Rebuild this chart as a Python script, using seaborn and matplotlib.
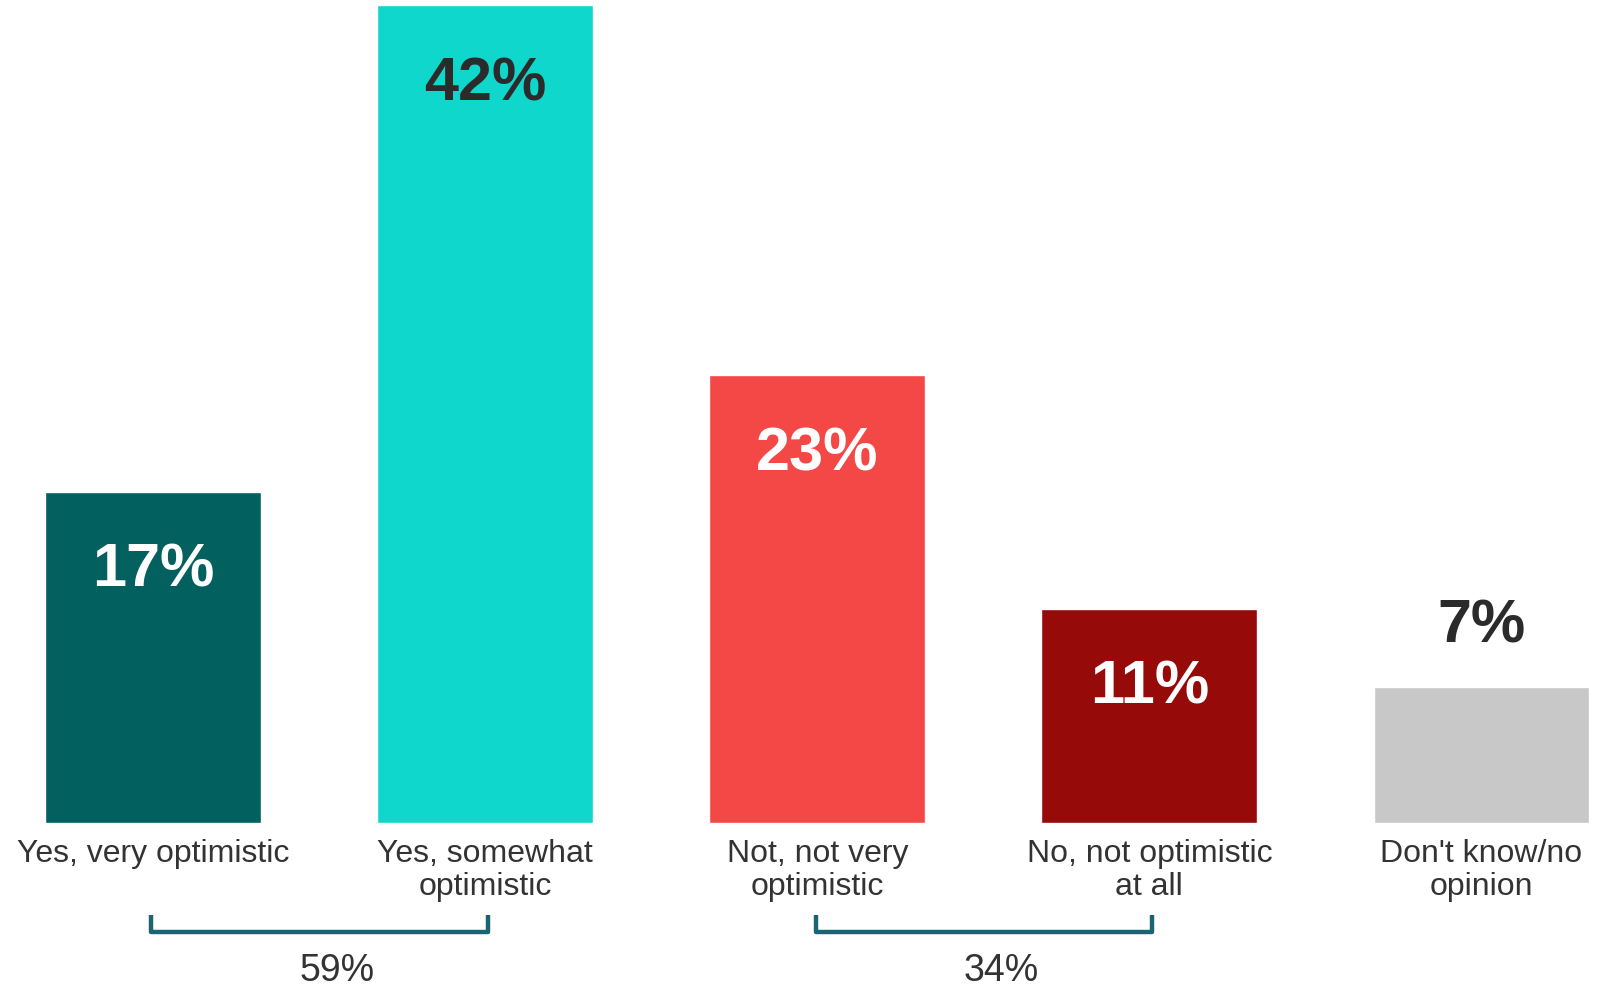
import matplotlib
matplotlib.use("Agg")
import matplotlib.pyplot as plt
import matplotlib.transforms as mtransforms
import seaborn as sns
import pandas as pd

# Survey responses
categories = [
    "Yes, very optimistic",
    "Yes, somewhat\noptimistic",
    "Not, not very\noptimistic",
    "No, not optimistic\nat all",
    "Don't know/no\nopinion",
]
values = [17, 42, 23, 11, 7]
bar_colors = ["#02605E", "#10D7CC", "#F44846", "#960A0A", "#C8C8C8"]
label_colors = ["white", "#2B2B2B", "white", "white", "#2B2B2B"]
label_inside = [True, True, True, True, False]

# Grouped totals shown under brackets: (first index, last index, label)
groups = [(0, 1, "59%"), (2, 3, "34%")]

sns.set_theme(style="white")
plt.rcParams["font.family"] = ["Liberation Sans", "DejaVu Sans"]

df = pd.DataFrame({"category": categories, "value": values})

fig = plt.figure(figsize=(15.99, 9.86), dpi=100)
ax = fig.add_axes([0, 0.1653, 1, 0.8347])

sns.barplot(
    data=df, x="category", y="value", hue="category",
    palette=bar_colors, saturation=1, width=0.65, legend=False, ax=ax,
)

ax.set_xlim(-0.461, 4.354)
ax.set_ylim(0, 42.26)
ax.axis("off")

# value labels
for i, (v, c, inside) in enumerate(zip(values, label_colors, label_inside)):
    y = v - 4.88 if inside else v + 2.28
    ax.text(i, y, f"{v}%", ha="center", va="baseline", color=c,
            fontsize=44, fontweight="bold")

# category labels below the bars
trans = mtransforms.blended_transform_factory(ax.transData, ax.transAxes)
for i, cat in enumerate(categories):
    ax.annotate(cat, xy=(i, 0), xycoords=trans, xytext=(0, -11.2),
                textcoords="offset points", ha="center", va="top",
                multialignment="center", fontsize=23, color="#333333",
                linespacing=1.16, annotation_clip=False)

# brackets with group totals
bracket_color = "#1B6474"
for a, b, txt in groups:
    ax.plot([a - 0.005, a - 0.005, b + 0.008, b + 0.008],
            [-0.1118, -0.1324, -0.1324, -0.1118],
            transform=trans, color=bracket_color, lw=3.2, clip_on=False,
            solid_joinstyle="round", solid_capstyle="butt")
    ax.text((a + b) / 2 + 0.055, -0.192, txt, transform=trans,
            ha="center", va="baseline", fontsize=27, color="#333333")

fig.savefig("out.png", dpi=100)
